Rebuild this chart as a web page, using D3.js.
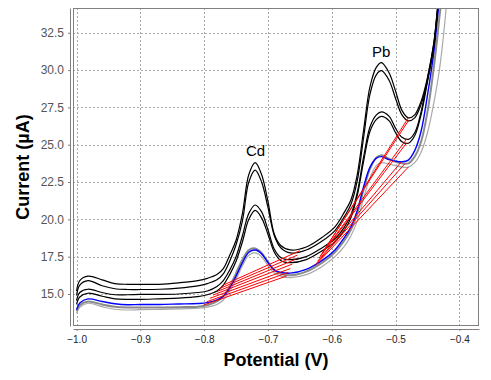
<!DOCTYPE html>
<html><head><meta charset="utf-8">
<script src="https://cdn.jsdelivr.net/npm/d3@7/dist/d3.min.js"></script>
<style>
html,body{margin:0;padding:0;background:#fff;}
svg{display:block;font-family:"Liberation Sans",Arial,sans-serif;}
</style></head>
<body>
<svg id="chart" width="491" height="380"></svg>
<script>
// ---- data ----
const potential = [-1.0,-0.995,-0.982,-0.96,-0.94,-0.92,-0.90,-0.87,-0.84,-0.81,-0.795,-0.78,-0.77,-0.76,-0.75,-0.74,-0.73,-0.72,-0.71,-0.70,-0.69,-0.68,-0.665,-0.64,-0.615,-0.595,-0.58,-0.57,-0.56,-0.55,-0.54,-0.53,-0.522,-0.51,-0.50,-0.49,-0.48,-0.47,-0.46,-0.45,-0.44,-0.435,-0.43,-0.42];
const black1 = [15.2,15.9,16.2,15.95,15.7,15.65,15.65,15.65,15.75,15.9,16.05,16.3,16.7,17.6,18.6,20.4,23.0,23.8,23.0,21.2,19.0,18.25,17.95,18.15,18.8,19.5,20.5,21.3,23.0,26.0,28.9,30.2,30.5,29.8,28.6,27.3,26.8,27.0,27.9,29.5,31.8,33.8,36.0,40.0];
const black2 = [14.9,15.6,15.9,15.55,15.35,15.3,15.3,15.32,15.4,15.55,15.7,15.95,16.35,17.2,18.3,19.9,22.5,23.3,22.5,20.8,18.9,18.1,17.75,17.95,18.55,19.25,20.2,21.0,22.6,25.5,28.4,29.7,29.96,29.3,28.1,27.0,26.6,26.8,27.7,29.3,31.6,33.6,35.8,40.0];
const black3 = [14.55,15.1,15.32,15.1,14.95,14.95,14.97,14.97,15.0,15.1,15.2,15.5,15.9,16.6,17.5,18.9,20.4,20.96,20.5,19.3,18.0,17.45,17.3,17.5,18.1,18.7,19.5,20.3,21.8,24.2,26.2,27.0,27.2,26.9,26.1,25.5,25.36,25.8,27.2,29.4,31.8,33.8,36.0,40.0];
const black4 = [14.3,14.8,15.05,14.85,14.68,14.64,14.64,14.68,14.72,14.82,14.95,15.2,15.6,16.3,17.2,18.5,20.0,20.6,20.1,19.0,17.8,17.25,17.1,17.3,17.9,18.5,19.3,20.1,21.6,23.9,25.9,26.7,26.9,26.6,25.8,25.2,25.1,25.6,27.0,29.2,31.6,33.6,35.8,40.0];
const blue = [13.95,14.4,14.67,14.5,14.35,14.28,14.3,14.3,14.33,14.36,14.42,14.6,14.85,15.4,16.2,17.1,17.8,17.95,17.7,17.1,16.6,16.45,16.4,16.65,17.25,17.95,18.8,19.5,20.6,22.2,23.5,24.1,24.2,24.0,23.9,23.86,23.97,24.6,25.9,28.3,31.2,33.2,35.3,40.0];
const gray1 = [13.85,14.25,14.5,14.3,14.15,14.1,14.1,14.1,14.12,14.15,14.25,14.5,14.85,15.5,16.4,17.3,17.95,18.05,17.75,17.15,16.6,16.35,16.25,16.5,17.1,17.8,18.6,19.3,20.4,22.0,23.4,24.15,24.3,24.05,23.85,23.75,23.75,24.2,25.2,27.2,30.2,32.0,34.0,37.0];
const gray2 = [13.7,14.1,14.38,14.15,13.98,13.93,13.95,13.97,14.0,14.05,14.12,14.3,14.6,15.2,16.0,16.9,17.6,17.75,17.5,16.9,16.4,16.2,16.1,16.3,16.85,17.5,18.2,18.9,19.9,21.4,22.8,23.6,23.8,23.7,23.6,23.5,23.5,23.8,24.5,25.8,27.8,29.0,30.4,34.5];

// peak baselines: (potential, current) start/end pairs
const cdBaseStartV = [-0.770,-0.775,-0.780,-0.786,-0.791,-0.796,-0.801];
const cdBaseStartI = [15.6,15.38,15.16,14.93,14.71,14.48,14.26];
const cdBaseEndV   = [-0.650,-0.654,-0.658,-0.662,-0.665,-0.668,-0.671];
const cdBaseEndI   = [17.9,17.6,17.3,17.0,16.7,16.45,16.2];
const pbBaseStartV = [-0.612,-0.615,-0.618,-0.620,-0.622,-0.624,-0.626];
const pbBaseStartI = [17.9,17.75,17.55,17.4,17.2,17.05,16.9];
const pbBaseEndV   = [-0.480,-0.480,-0.483,-0.483,-0.490,-0.485,-0.480];
const pbBaseEndI   = [26.8,26.6,25.36,25.1,23.9,23.75,23.5];

const xTicks = [-1.0,-0.9,-0.8,-0.7,-0.6,-0.5,-0.4];
const yTicks = [15.0,17.5,20.0,22.5,25.0,27.5,30.0,32.5];
const peakLabels = ["Cd","Pb"];
const peakLabelV = [-0.7195,-0.5225];
const peakLabelI = [24.24,30.87];

// ---- layout ----
const L = 73, R = 479, T = 8, B = 326;
const svg = d3.select("#chart");
const x = d3.scaleLinear().domain([-1.0056, -0.3692]).range([L, R]);
const y = d3.scaleLinear().domain([12.857, 34.156]).range([B, T]);

svg.append("defs").append("clipPath").attr("id","clip")
  .append("rect").attr("x",L).attr("y",T).attr("width",R-L).attr("height",B-T);

// grid
const grid = svg.append("g").attr("stroke","#a8a8a8").attr("stroke-width",1).attr("stroke-dasharray","2,2");
grid.selectAll("line.v").data(xTicks).join("line").attr("class","v")
  .attr("x1",d=>Math.round(x(d))+0.5).attr("x2",d=>Math.round(x(d))+0.5).attr("y1",T).attr("y2",B);
grid.selectAll("line.h").data(yTicks).join("line").attr("class","h")
  .attr("y1",d=>Math.round(y(d))+0.5).attr("y2",d=>Math.round(y(d))+0.5).attr("x1",L).attr("x2",R);

// curves
const series = [
  {v:gray2, c:"#a9a9a9", w:1.2},
  {v:gray1, c:"#8a8a8a", w:2},
  {v:blue, c:"#0000ff", w:1.4},
  {v:black4, c:"#000", w:1.2},
  {v:black3, c:"#000", w:1.2},
  {v:black2, c:"#000", w:1.2},
  {v:black1, c:"#000", w:1.2}
];
const line = d3.line().x(d=>x(d[0])).y(d=>y(d[1])).curve(d3.curveCatmullRom.alpha(0.5));
const plot = svg.append("g").attr("clip-path","url(#clip)");
plot.selectAll("path.s").data(series).join("path").attr("class","s")
  .attr("fill","none").attr("stroke",d=>d.c).attr("stroke-width",d=>d.w)
  .attr("d",d=>line(potential.map((p,i)=>[p,d.v[i]])));

// red baselines
const reds = [];
cdBaseStartV.forEach((v,i)=>reds.push([[v,cdBaseStartI[i]],[cdBaseEndV[i],cdBaseEndI[i]]]));
pbBaseStartV.forEach((v,i)=>reds.push([[v,pbBaseStartI[i]],[pbBaseEndV[i],pbBaseEndI[i]]]));
plot.selectAll("line.r").data(reds).join("line").attr("class","r")
  .attr("stroke","#ff0000").attr("stroke-width",1)
  .attr("x1",d=>x(d[0][0])).attr("y1",d=>y(d[0][1])).attr("x2",d=>x(d[1][0])).attr("y2",d=>y(d[1][1]));

// plot outline
svg.append("rect").attr("x",L+0.5).attr("y",T+0.5).attr("width",R-L-1).attr("height",B-T-1)
  .attr("fill","none").attr("stroke","#808080");

// axes
const xAxis = svg.append("g").attr("transform",`translate(0,${B+3})`)
  .call(d3.axisBottom(x).tickValues(xTicks).tickFormat(d3.format(".1f")).tickSize(2).tickPadding(5).tickSizeOuter(0));
xAxis.selectAll(".domain").attr("stroke","#808080");
xAxis.selectAll(".tick line").attr("stroke","#808080");
xAxis.selectAll("text").attr("font-size",10).attr("fill","#222").attr("font-family","Liberation Sans, Arial, sans-serif");

const yAxis = svg.append("g").attr("transform",`translate(${L-3},0)`)
  .call(d3.axisLeft(y).tickValues(yTicks).tickFormat(d3.format(".1f")).tickSize(2).tickPadding(4).tickSizeOuter(0));
yAxis.selectAll(".domain").attr("stroke","#808080");
yAxis.selectAll(".tick line").attr("stroke","#808080");
yAxis.selectAll("text").attr("font-size",12).attr("fill","#555").attr("font-family","Liberation Sans, Arial, sans-serif");

// titles
svg.append("text").attr("x",(L+R)/2).attr("y",366).attr("text-anchor","middle")
  .attr("font-size",18).attr("font-weight","bold").text("Potential (V)");
svg.append("text").attr("transform",`translate(29,${(T+B)/2}) rotate(-90)`).attr("text-anchor","middle")
  .attr("font-size",18).attr("font-weight","bold").text("Current (µA)");

// peak labels
svg.selectAll("text.pk").data(peakLabels).join("text").attr("class","pk")
  .attr("x",(d,i)=>x(peakLabelV[i])).attr("y",(d,i)=>y(peakLabelI[i]))
  .attr("text-anchor","middle").attr("font-size",15).attr("fill","#000").text(d=>d);
</script>
</body></html>
